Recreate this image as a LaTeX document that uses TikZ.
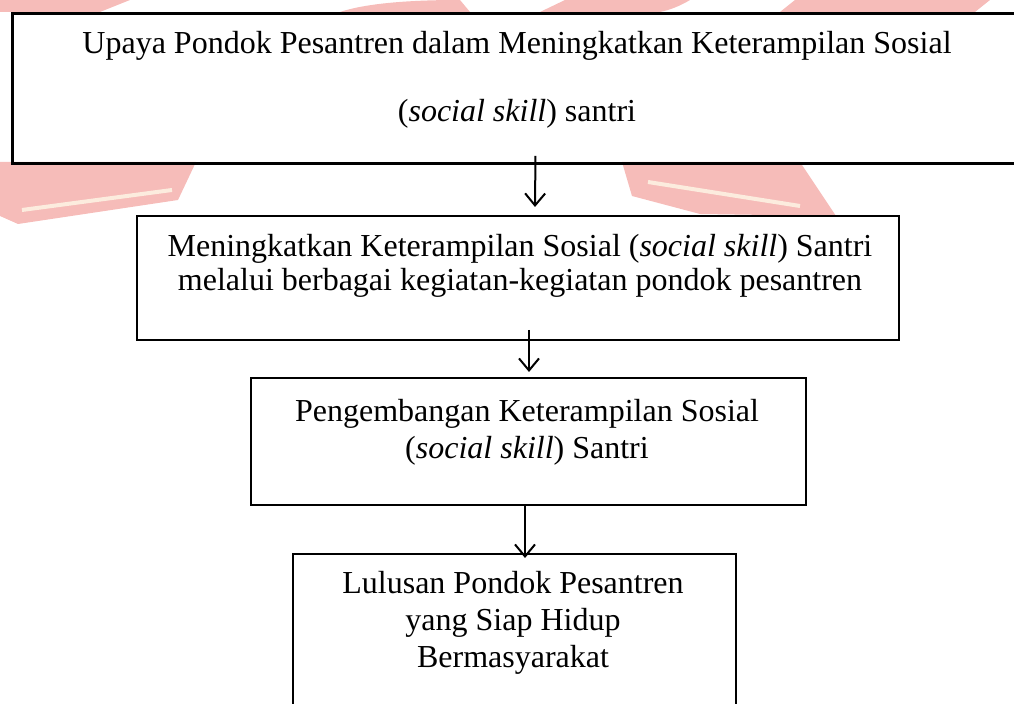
\documentclass[tikz,border=0pt]{standalone}
\usepackage{fontspec}
\setmainfont{Liberation Serif}
\usepackage{tikz}
\usetikzlibrary{calc,
                positioning,
                arrows.meta
                }

\newdimen\pxu
\pxu=0.375pt

\definecolor{wmred}{RGB}{246,188,185}
\definecolor{wmstripe}{RGB}{252,236,222}

\tikzset{
    box/.style={draw, line width=0.75pt, rectangle, anchor=north west, inner sep=0pt},
    txt/.style={align=center, anchor=base, inner sep=0pt},
    arr/.style={line width=0.75pt, -{Straight Barb[length=4.5pt, width=7.5pt]}}
}

\begin{document}
\begin{tikzpicture}[x=0.375pt, y=-0.375pt]
    \useasboundingbox (0,0) rectangle (1014,704);
    \clip (0,0) rectangle (1014,704);

    % watermark
    \fill[wmred] (0,162) -- (196,162) -- (178,200) -- (18,224) -- (0,216) -- cycle;
    \draw[wmstripe, line width=1.5pt] (22,210) -- (172,190);
    \fill[wmred] (622,162) -- (800,162) -- (836,216) -- (700,214) -- (632,196) -- cycle;
    \draw[wmstripe, line width=1.5pt] (648,182) -- (800,206);
    \fill[wmred] (0,0) -- (130,0) -- (100,12) -- (0,12) -- cycle;
    \fill[wmred] (340,12) .. controls (370,2) and (420,0) .. (460,0) -- (470,12) -- cycle;
    \fill[wmred] (540,12) -- (565,0) -- (690,0) .. controls (680,6) and (670,10) .. (660,12) -- cycle;
    \fill[wmred] (780,12) -- (795,0) -- (990,0) -- (975,12) -- cycle;

    \node[box, line width=1.1pt, minimum width=1019\pxu, minimum height=150\pxu] (upaya) at (11,12) {};
    \node[box, minimum width=762\pxu, minimum height=124\pxu] (kegiatan) at (136,215) {};
    \node[box, minimum width=555\pxu, minimum height=127\pxu] (pengembangan) at (250,377) {};
    \node[box, minimum width=443\pxu, minimum height=190\pxu] (lulusan) at (292,553) {};

    \node[txt, font=\fontsize{12pt}{25.5pt}\selectfont] (tupaya) at (517,122)
        {Upaya Pondok Pesantren dalam Meningkatkan Keterampilan Sosial\\(\textit{social skill}) santri};
    \node[txt, font=\fontsize{12pt}{12.75pt}\selectfont] (tkegiatan) at (520,291)
        {Meningkatkan Keterampilan Sosial (\textit{social skill}) Santri\\melalui berbagai kegiatan-kegiatan pondok pesantren};
    \node[txt, font=\fontsize{12pt}{13.9pt}\selectfont] (tpengembangan) at (527,459)
        {Pengembangan Keterampilan Sosial\\(\textit{social skill}) Santri};
    \node[txt, font=\fontsize{12pt}{13.9pt}\selectfont] (tlulusan) at (513,668)
        {Lulusan Pondok Pesantren\\yang Siap Hidup\\Bermasyarakat};

    \draw[arr] ([xshift=13.5\pxu, yshift=9\pxu]upaya.south) -- ([xshift=17\pxu, yshift=8\pxu]kegiatan.north);
    \draw[arr] ([xshift=11\pxu, yshift=11\pxu]kegiatan.south) -- ([xshift=0.5\pxu, yshift=5\pxu]pengembangan.north);
    \draw[arr] ([xshift=-3.5\pxu]pengembangan.south) -- ([xshift=10.5\pxu, yshift=-5\pxu]lulusan.north);
\end{tikzpicture}
\end{document}
